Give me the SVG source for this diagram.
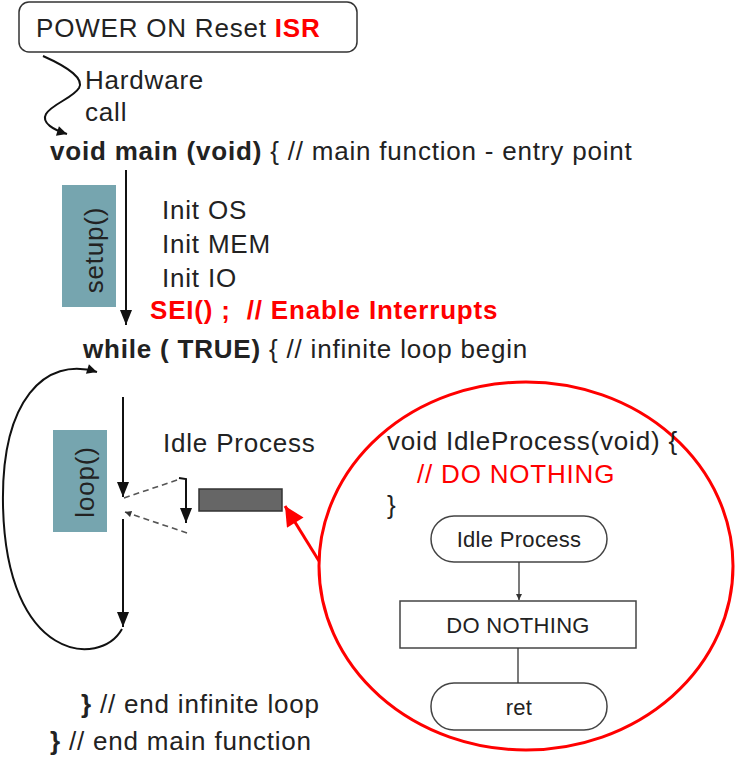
<svg xmlns="http://www.w3.org/2000/svg" width="736" height="761" viewBox="0 0 736 761">
  <style>
    text { font-family: "Liberation Sans", Arial, sans-serif; fill: #222; }
    .t { font-size: 26px; letter-spacing: 0.8px; }
    .b { font-weight: bold; }
    .red { fill: #f00; }
    .small { font-size: 22px; letter-spacing: 0.3px; }
    .line { fill: none; stroke: #111; stroke-width: 2; }
    .dash { fill: none; stroke: #555; stroke-width: 1.6; stroke-dasharray: 6 4; }
    .band { fill: #76a5af; }
    .fc { fill: #fff; stroke: #444; stroke-width: 1.5; }
  </style>
  <defs>
    <marker id="arrow" viewBox="0 0 15 12" refX="15" refY="6" markerWidth="7.5" markerHeight="6" markerUnits="strokeWidth" orient="auto">
      <path d="M0,0 L15,6 L0,12 Z" fill="#111"/>
    </marker>
    <marker id="arrowSmall" viewBox="0 0 10 10" refX="10" refY="5" markerWidth="7" markerHeight="5" markerUnits="strokeWidth" orient="auto">
      <path d="M0,0 L10,5 L0,10 Z" fill="#111"/>
    </marker>
    <marker id="arrowDash" viewBox="0 0 10 10" refX="10" refY="5" markerWidth="5" markerHeight="4" markerUnits="strokeWidth" orient="auto">
      <path d="M0,0 L10,5 L0,10 Z" fill="#333"/>
    </marker>
    <marker id="arrowFc" viewBox="0 0 10 10" refX="10" refY="5" markerWidth="5" markerHeight="5" markerUnits="strokeWidth" orient="auto">
      <path d="M0,0 L10,5 L0,10 Z" fill="#333"/>
    </marker>
    <marker id="arrowRed" viewBox="0 0 10 10" refX="10" refY="5" markerWidth="8" markerHeight="6.5" markerUnits="strokeWidth" orient="auto">
      <path d="M0,0 L10,5 L0,10 Z" fill="#f00"/>
    </marker>
  </defs>

  <rect width="736" height="761" fill="#fff"/>

  <!-- reset vector box -->
  <g id="power-on">
    <rect x="19" y="2" width="338" height="50" rx="10" fill="#fff" stroke="#333" stroke-width="1.5"/>
    <text class="t" x="36" y="37">POWER ON Reset <tspan class="b red">ISR</tspan></text>
  </g>

  <g id="hardware-call">
    <text class="t" x="85" y="89">Hardware</text>
    <text class="t" x="85" y="121">call</text>
  </g>

  <g id="main-decl">
    <text class="t" x="50" y="160"><tspan class="b">void main (void)</tspan> { // main function - entry point</text>
  </g>

  <g id="setup">
    <rect class="band" x="62" y="185" width="54" height="122"/>
    <text class="t" transform="translate(103,250) rotate(-90)" text-anchor="middle">setup()</text>
  </g>

  <g id="init-steps">
    <text class="t" x="162" y="219">Init OS</text>
    <text class="t" x="162" y="253">Init MEM</text>
    <text class="t" x="162" y="287">Init IO</text>
    <text class="t b red" x="150" y="319" xml:space="preserve">SEI() ;  // Enable Interrupts</text>
  </g>

  <g id="while-decl">
    <text class="t" x="83" y="358"><tspan class="b">while ( TRUE)</tspan> { // infinite loop begin</text>
  </g>

  <g id="loop">
    <rect class="band" x="53" y="430" width="54" height="102"/>
    <text class="t" transform="translate(94,482) rotate(-90)" text-anchor="middle">loop()</text>
  </g>

  <g id="idle-label">
    <text class="t" x="163" y="452">Idle Process</text>
  </g>

  <g id="idle-block">
    <rect x="199" y="489" width="83" height="22" fill="#666" stroke="#333" stroke-width="1.5"/>
  </g>

  <!-- expanded view of the idle routine -->
  <g id="idle-detail">
    <ellipse cx="526" cy="566" rx="207" ry="184" fill="none" stroke="#f00" stroke-width="3"/>
    <text class="t" x="387" y="450">void IdleProcess(void) {</text>
    <text class="t red" x="417" y="483">// DO NOTHING</text>
    <text class="t" x="387" y="514">}</text>
  </g>

  <g id="fc-idle">
    <rect class="fc" x="431" y="516" width="176" height="46" rx="23"/>
    <text class="small" x="519" y="547" text-anchor="middle">Idle Process</text>
  </g>
  <g id="fc-nothing">
    <rect class="fc" x="400" y="601" width="236" height="47"/>
    <text class="small" x="518" y="633" text-anchor="middle">DO NOTHING</text>
  </g>
  <g id="fc-ret">
    <rect class="fc" x="431" y="683" width="176" height="47" rx="23"/>
    <text class="small" x="519" y="715" text-anchor="middle">ret</text>
  </g>

  <g id="closing">
    <text class="t" x="81" y="713"><tspan class="b">}</tspan> // end infinite loop</text>
    <text class="t" x="50" y="750"><tspan class="b">}</tspan> // end main function</text>
  </g>

  <g id="connectors">
    <!-- hardware call squiggle -->
    <path class="line" stroke-width="1.4" d="M43,56 C70,68 84,79 79,88 C73,98 52,104 46,114 C41,123 54,130 67,134" marker-end="url(#arrowSmall)"/>
    <!-- setup flow -->
    <path class="line" d="M126,170 L126,325" marker-end="url(#arrow)"/>
    <!-- loop flow -->
    <path class="line" d="M123,397 L123,497" marker-end="url(#arrow)"/>
    <path class="line" d="M123,519 L123,627" marker-end="url(#arrow)"/>
    <!-- loop back edge -->
    <path class="line" d="M122,629 C100,668 6,662 3,505 C1,400 45,356 97,372" marker-end="url(#arrowSmall)"/>
    <!-- call into idle process and return -->
    <path class="dash" d="M124,498 L180,479"/>
    <path class="line" d="M179,478 L186,479 L186,523" marker-end="url(#arrow)"/>
    <path class="dash" d="M187,533 L125,512" marker-end="url(#arrowDash)"/>
    <!-- zoom pointer -->
    <path fill="none" stroke="#f00" stroke-width="3" d="M319,561 L285,506" marker-end="url(#arrowRed)"/>
    <!-- flowchart links -->
    <path fill="none" stroke="#333" stroke-width="1.3" d="M519,562 L519,600" marker-end="url(#arrowFc)"/>
    <path fill="none" stroke="#333" stroke-width="1.3" d="M518,648 L518,683"/>
  </g>
</svg>
